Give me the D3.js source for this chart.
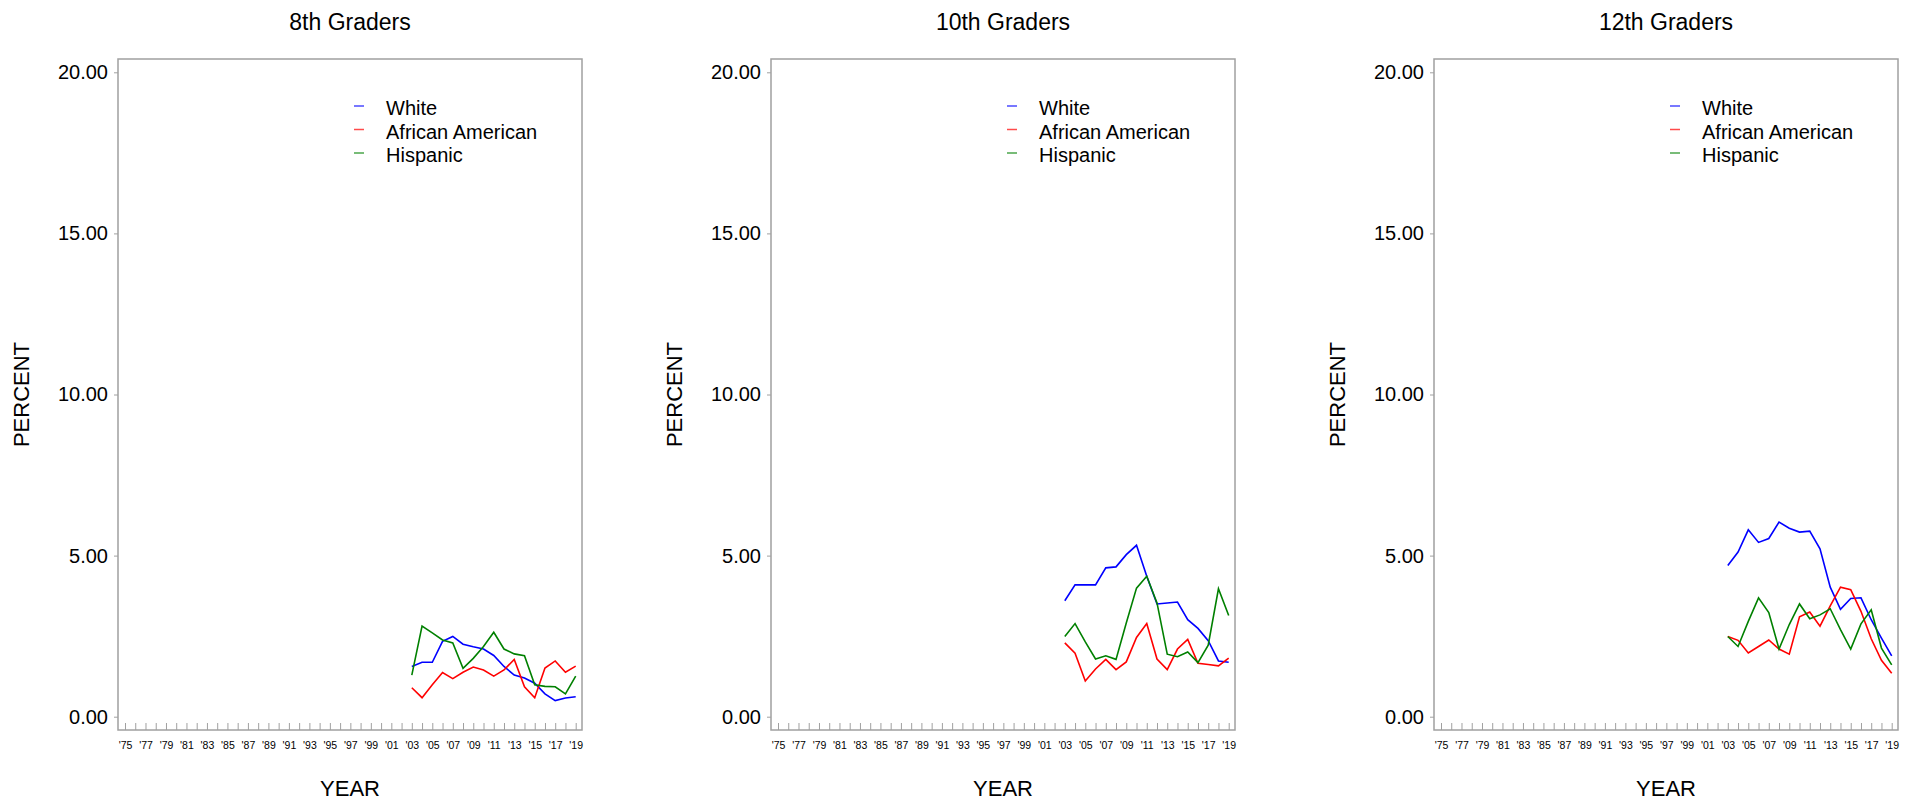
<!DOCTYPE html>
<html>
<head>
<meta charset="utf-8">
<script src="https://cdn.jsdelivr.net/npm/d3@7"></script>
<style>
  html, body { margin: 0; padding: 0; background: #fff; }
  svg { display: block; font-family: "Liberation Sans", Arial, sans-serif; }
</style>
</head>
<body>
<svg id="chart" width="1921" height="804"></svg>
<script>
// ---- data ----
const years = [2003, 2004, 2005, 2006, 2007, 2008, 2009, 2010, 2011, 2012, 2013, 2014, 2015, 2016, 2017, 2018, 2019];
const panelTitles = ["8th Graders", "10th Graders", "12th Graders"];
const seriesNames = ["White", "African American", "Hispanic"];
const seriesColors = ["#0000ff", "#ff0000", "#008000"];
const yTicks = [0, 5, 10, 15, 20];
const yTickLabels = ["0.00", "5.00", "10.00", "15.00", "20.00"];
const minorTickYears = [1975,1976,1977,1978,1979,1980,1981,1982,1983,1984,1985,1986,1987,1988,1989,1990,1991,1992,1993,1994,1995,1996,1997,1998,1999,2000,2001,2002,2003,2004,2005,2006,2007,2008,2009,2010,2011,2012,2013,2014,2015,2016,2017,2018,2019];
const labelYears = [1975,1977,1979,1981,1983,1985,1987,1989,1991,1993,1995,1997,1999,2001,2003,2005,2007,2009,2011,2013,2015,2017,2019];
const labelTexts = ["'75","'77","'79","'81","'83","'85","'87","'89","'91","'93","'95","'97","'99","'01","'03","'05","'07","'09","'11","'13","'15","'17","'19"];

const grade8White    = [1.56, 1.69, 1.69, 2.34, 2.49, 2.25, 2.17, 2.10, 1.90, 1.56, 1.29, 1.20, 1.04, 0.71, 0.50, 0.58, 0.62];
const grade8African  = [0.90, 0.59, 0.99, 1.37, 1.18, 1.38, 1.54, 1.45, 1.26, 1.45, 1.78, 0.93, 0.59, 1.51, 1.73, 1.38, 1.57];
const grade8Hispanic = [1.29, 2.81, 2.60, 2.38, 2.29, 1.50, 1.81, 2.18, 2.62, 2.10, 1.95, 1.89, 0.99, 0.94, 0.93, 0.71, 1.26];

const grade10White    = [3.60, 4.09, 4.09, 4.09, 4.62, 4.65, 5.03, 5.32, 4.36, 3.50, 3.53, 3.56, 3.01, 2.74, 2.36, 1.73, 1.69];
const grade10African  = [2.29, 1.97, 1.11, 1.48, 1.78, 1.46, 1.70, 2.46, 2.89, 1.79, 1.46, 2.10, 2.40, 1.66, 1.62, 1.58, 1.82];
const grade10Hispanic = [2.49, 2.89, 2.32, 1.79, 1.89, 1.78, 2.91, 3.99, 4.36, 3.53, 1.94, 1.86, 2.01, 1.68, 2.22, 3.97, 3.14];

const grade12White    = [4.69, 5.11, 5.80, 5.41, 5.53, 6.04, 5.85, 5.73, 5.76, 5.21, 4.02, 3.33, 3.67, 3.69, 3.01, 2.44, 1.89];
const grade12African  = [2.49, 2.37, 1.98, 2.18, 2.38, 2.10, 1.94, 3.10, 3.25, 2.81, 3.44, 4.02, 3.94, 3.27, 2.42, 1.75, 1.35];
const grade12Hispanic = [2.49, 2.18, 2.96, 3.69, 3.23, 2.10, 2.86, 3.50, 3.04, 3.16, 3.35, 2.70, 2.10, 2.88, 3.32, 2.13, 1.61];

const panelData = [
  [grade8White, grade8African, grade8Hispanic],
  [grade10White, grade10African, grade10Hispanic],
  [grade12White, grade12African, grade12Hispanic]
];

// ---- layout ----
const svg = d3.select("#chart");
const panelLefts = [118, 771, 1434];
const panelWidth = 464;
const frameTop = 59, frameBottom = 730;
const frameColor = "#a0a0a0";

panelTitles.forEach((title, pi) => {
  const left = panelLefts[pi];
  const right = left + panelWidth;
  const g = svg.append("g");

  const x = d3.scaleLinear().domain([1975, 2019]).range([left + 7, right - 6.3]);
  const y = d3.scaleLinear().domain([0, 20]).range([716.7, 72.3]);

  // frame
  g.append("rect")
    .attr("x", left).attr("y", frameTop)
    .attr("width", panelWidth).attr("height", frameBottom - frameTop)
    .attr("fill", "none").attr("stroke", frameColor).attr("stroke-width", 1.5);

  // y axis ticks + labels
  const yAxis = d3.axisLeft(y).tickValues(yTicks)
    .tickFormat((d, i) => yTickLabels[i]).tickSize(4).tickPadding(6);
  const ya = g.append("g").attr("transform", `translate(${left},0)`).call(yAxis);
  ya.select(".domain").remove();
  ya.selectAll(".tick line").attr("stroke", frameColor);
  ya.selectAll(".tick text").attr("font-size", 20).attr("fill", "#000")
    .attr("font-family", "'Liberation Sans', Arial, sans-serif");

  // x minor ticks (inside frame, bottom)
  const xMinor = d3.axisTop(x).tickValues(minorTickYears).tickSize(7).tickFormat("");
  const xm = g.append("g").attr("transform", `translate(0,${frameBottom})`).call(xMinor);
  xm.select(".domain").remove();
  xm.selectAll(".tick line").attr("stroke", frameColor);

  // x labels
  const xLab = d3.axisBottom(x).tickValues(labelYears).tickSize(0).tickPadding(12)
    .tickFormat((d, i) => labelTexts[i]);
  const xl = g.append("g").attr("transform", `translate(0,${frameBottom})`).call(xLab);
  xl.select(".domain").remove();
  xl.selectAll(".tick text").attr("font-size", 10.5).attr("fill", "#000")
    .attr("font-family", "'Liberation Sans', Arial, sans-serif");

  // title
  g.append("text").attr("x", (left + right) / 2).attr("y", 30)
    .attr("text-anchor", "middle").attr("font-size", 23).attr("fill", "#000")
    .text(title);

  // axis titles
  g.append("text").attr("transform", `translate(${left - 89},${(72.3 + 716.7) / 2}) rotate(-90)`)
    .attr("text-anchor", "middle").attr("font-size", 22).attr("fill", "#000")
    .text("PERCENT");
  g.append("text").attr("x", (left + right) / 2).attr("y", 796)
    .attr("text-anchor", "middle").attr("font-size", 22).attr("fill", "#000")
    .text("YEAR");

  // lines
  const line = d3.line().x((d, i) => x(years[i])).y(d => y(d));
  panelData[pi].forEach((vals, si) => {
    g.append("path").datum(vals).attr("d", line)
      .attr("fill", "none").attr("stroke", seriesColors[si]).attr("stroke-width", 1.6);
  });

  // legend
  const lg = g.append("g");
  seriesNames.forEach((name, si) => {
    const cy = 108 + si * 23.5;
    lg.append("line").attr("x1", left + 236).attr("x2", left + 246)
      .attr("y1", cy - 2).attr("y2", cy - 2)
      .attr("stroke", seriesColors[si]).attr("stroke-width", 1.5).attr("opacity", 0.7);
    lg.append("text").attr("x", left + 268).attr("y", cy + 7)
      .attr("font-size", 20).attr("fill", "#000").text(name);
  });
});
</script>
</body>
</html>
